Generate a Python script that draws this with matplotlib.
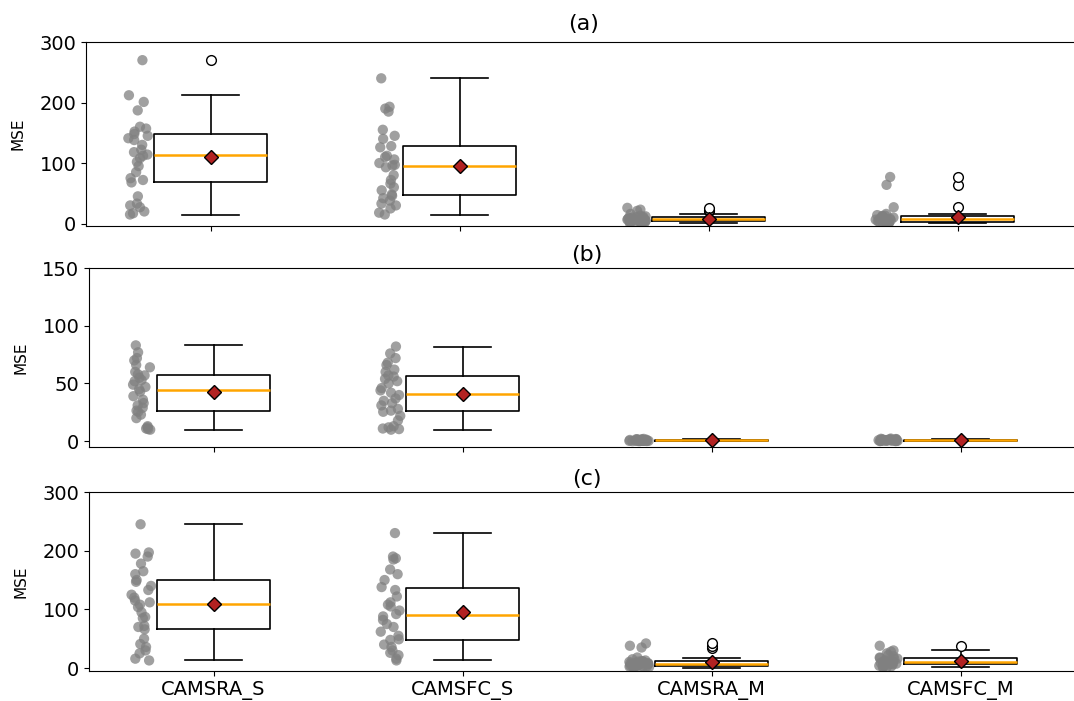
import numpy as np
import matplotlib
matplotlib.use('Agg')
import matplotlib.pyplot as plt

labels = ['CAMSRA_S', 'CAMSFC_S', 'CAMSRA_M', 'CAMSFC_M']

# panel (a)
a_camsra_s = [15, 17, 20, 27, 30, 33, 45, 68, 72, 75, 85, 95, 102, 108, 112,
              114, 118, 122, 130, 138, 141, 145, 148, 152, 157, 160, 187, 201, 212, 270]
a_camsfc_s = [15, 18, 25, 30, 33, 38, 42, 46, 48, 55, 60, 66, 72, 80, 93,
              96, 97, 100, 106, 110, 112, 126, 128, 140, 145, 155, 185, 190, 193, 240]
a_camsra_m = [0.5, 1, 1.5, 2, 2, 2.5, 3, 3.5, 4, 4.5, 5, 5.5, 6, 6, 6.5,
              7, 7.5, 8, 8.5, 9, 9.5, 10, 10.5, 11, 12, 13, 16, 21, 23, 26]
a_camsfc_m = [0.5, 1, 1, 1.5, 2, 2, 2.5, 3, 3.5, 4, 4.5, 5, 5.5, 6, 6.5,
              7, 7.5, 8, 9, 9.5, 10, 11, 12, 12.5, 13, 14, 16, 27, 64, 77]

# panel (b)
b_camsra_s = [10, 10.5, 11, 12, 13, 20, 23, 25.5, 26.5, 29, 31, 33, 36, 39, 43,
              45, 47, 49, 52, 53, 55, 57, 58, 60, 64, 66, 70, 72, 77, 83]
b_camsfc_s = [10, 10.5, 11, 12, 13, 18, 22, 25.5, 26.5, 28, 31, 33, 35, 37, 40,
              42, 44, 46, 50, 52, 54, 56, 57, 60, 62, 66, 68, 72, 76, 82]
b_camsra_m = [0.1, 0.1, 0.2, 0.2, 0.3, 0.3, 0.3, 0.4, 0.4, 0.5, 0.5, 0.5, 0.6, 0.6, 0.7,
              0.7, 0.8, 0.8, 0.9, 0.9, 1.0, 1.0, 1.1, 1.2, 1.3, 1.4, 1.5, 1.6, 1.8, 2.0]
b_camsfc_m = [0.1, 0.2, 0.2, 0.3, 0.3, 0.4, 0.4, 0.5, 0.5, 0.6, 0.6, 0.7, 0.7, 0.8, 0.8,
              0.9, 0.9, 1.0, 1.0, 1.1, 1.2, 1.2, 1.3, 1.4, 1.5, 1.6, 1.7, 1.9, 2.1, 2.3]

# panel (c)
c_camsra_s = [13, 16, 25, 30, 36, 41, 50, 66, 70, 72, 85, 87, 95, 104, 108,
              112, 115, 120, 125, 133, 140, 147, 150, 160, 165, 178, 190, 195, 197, 245]
c_camsfc_s = [13, 16, 22, 26, 30, 36, 40, 48, 49, 55, 62, 70, 75, 82, 88,
              92, 98, 105, 108, 112, 122, 133, 138, 150, 160, 168, 185, 187, 190, 230]
c_camsra_m = [0.5, 1, 1.5, 2, 2.5, 3, 3, 3.5, 4, 4.5, 5, 5.5, 6, 6.5, 7,
              7.5, 8, 8.5, 9, 10, 10.5, 11, 11.5, 12, 13, 15, 18, 35, 38, 42]
c_camsfc_m = [1, 1.5, 2, 3, 4, 5, 5.5, 6, 6.5, 7, 7.5, 8, 8.5, 9, 9,
              10, 10.5, 11, 12, 13, 15, 16, 17, 18, 20, 22, 25, 28, 30, 38]

panels = [
    ('(a)', [a_camsra_s, a_camsfc_s, a_camsra_m, a_camsfc_m], (-4, 300), [0, 100, 200, 300]),
    ('(b)', [b_camsra_s, b_camsfc_s, b_camsra_m, b_camsfc_m], (-5, 150), [0, 50, 100, 150]),
    ('(c)', [c_camsra_s, c_camsfc_s, c_camsra_m, c_camsfc_m], (-5, 300), [0, 100, 200, 300]),
]

W, H = 1074, 701
fig = plt.figure(figsize=(W / 100, H / 100), dpi=100)
# pixel boxes (left, top, bottom, title pad); axes run past the right edge like the original
boxes = [(86, 42, 226, 9), (89, 268, 447, 5), (89, 492, 671, 5)]
rng = np.random.default_rng(3)
pos = np.arange(1, 5)

for (title, groups, ylim, yt), (l, t, b, pad) in zip(panels, boxes):
    ax = fig.add_axes([l / W, 1 - b / H, 996 / W, (b - t) / H])
    for p, g in zip(pos, groups):
        xj = p - 0.29 + rng.uniform(-0.04, 0.04, len(g))
        ax.scatter(xj, g, s=55, color='grey', alpha=0.75, edgecolors='none', zorder=1)
    ax.boxplot(groups, positions=pos, widths=0.45, showmeans=True,
               boxprops=dict(color='black', linewidth=1.2),
               whiskerprops=dict(color='black', linewidth=1.2),
               capprops=dict(color='black', linewidth=1.2),
               medianprops=dict(color='orange', linewidth=1.8),
               flierprops=dict(marker='o', markerfacecolor='white',
                               markeredgecolor='black', markersize=7),
               meanprops=dict(marker='D', markerfacecolor='firebrick',
                              markeredgecolor='black', markersize=7))
    ax.set_xlim(0.5, 4.5)
    ax.set_ylim(*ylim)
    ax.set_yticks(yt)
    ax.spines['right'].set_visible(False)
    ax.tick_params(labelsize=14)
    ax.set_ylabel('MSE', fontsize=11, labelpad=10)
    ax.set_title(title, fontsize=16, pad=pad)
    ax.set_xticks(pos)
    if title == '(c)':
        ax.set_xticklabels(labels, fontsize=14)
    else:
        ax.set_xticklabels([])

fig.savefig('out.png', dpi=100)
